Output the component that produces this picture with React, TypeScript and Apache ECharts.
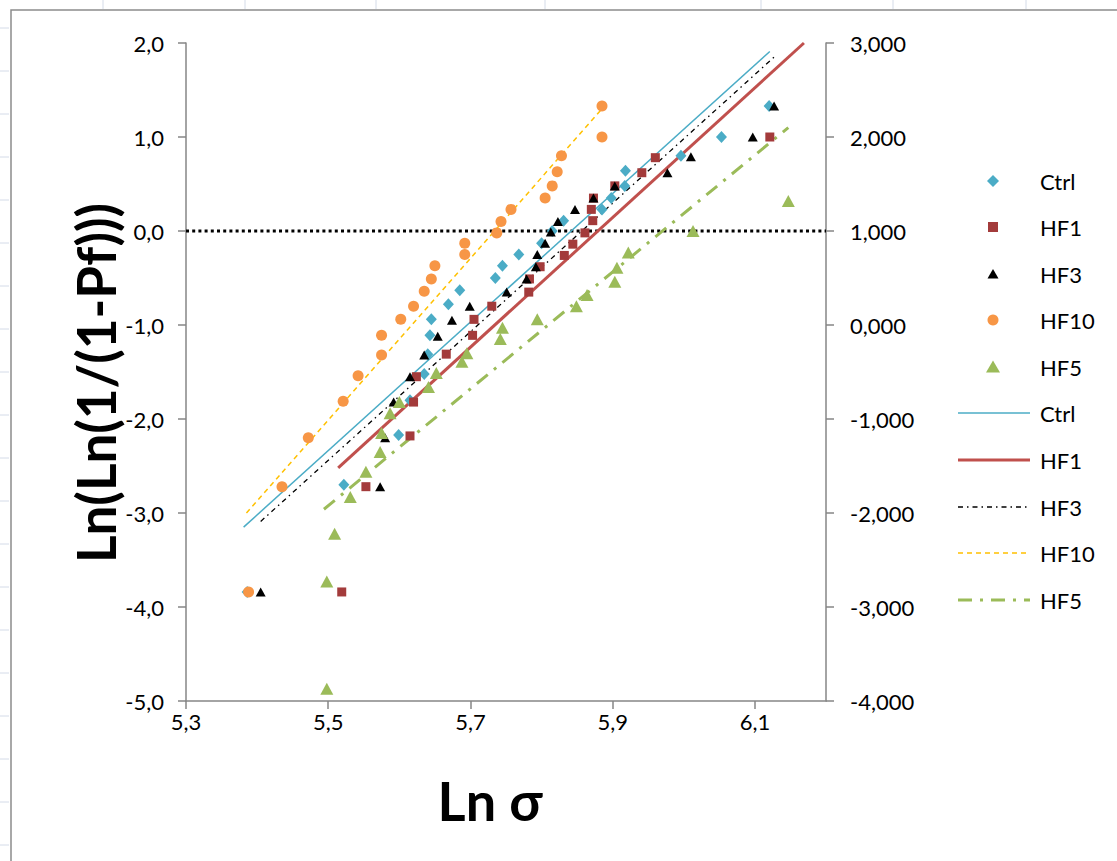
import React, { useEffect, useRef } from "react";
import * as echarts from "echarts";

// ---- data ----
const ctrlX = [5.386, 5.522, 5.599, 5.615, 5.635, 5.64, 5.643, 5.645, 5.669, 5.685, 5.735, 5.745, 5.768, 5.8, 5.815, 5.831, 5.885, 5.898, 5.917, 5.918, 5.996, 6.053, 6.12];
const ctrlY = [-3.84, -2.7, -2.17, -1.8, -1.52, -1.31, -1.11, -0.94, -0.78, -0.63, -0.5, -0.37, -0.25, -0.13, 0.0, 0.11, 0.23, 0.35, 0.48, 0.64, 0.8, 1.0, 1.33];

const hf1X = [5.519, 5.553, 5.615, 5.62, 5.624, 5.666, 5.703, 5.705, 5.73, 5.782, 5.783, 5.798, 5.832, 5.844, 5.861, 5.872, 5.87, 5.873, 5.903, 5.941, 5.96, 6.121];
const hf1Y = [-3.84, -2.72, -2.18, -1.82, -1.55, -1.31, -1.11, -0.94, -0.8, -0.65, -0.51, -0.38, -0.26, -0.14, -0.02, 0.11, 0.23, 0.35, 0.48, 0.62, 0.78, 1.0];

const hf3X = [5.405, 5.573, 5.58, 5.592, 5.615, 5.635, 5.654, 5.674, 5.699, 5.751, 5.779, 5.792, 5.794, 5.805, 5.813, 5.823, 5.847, 5.873, 5.903, 5.977, 6.01, 6.097, 6.127];
const hf3Y = [-3.84, -2.72, -2.2, -1.82, -1.55, -1.32, -1.12, -0.95, -0.8, -0.65, -0.51, -0.38, -0.25, -0.13, -0.01, 0.1, 0.23, 0.35, 0.48, 0.62, 0.79, 1.0, 1.33];

const hf10X = [5.388, 5.435, 5.472, 5.521, 5.542, 5.575, 5.575, 5.602, 5.62, 5.635, 5.645, 5.65, 5.692, 5.692, 5.737, 5.743, 5.757, 5.805, 5.815, 5.822, 5.828, 5.885, 5.885];
const hf10Y = [-3.84, -2.72, -2.2, -1.81, -1.54, -1.32, -1.11, -0.94, -0.8, -0.64, -0.51, -0.37, -0.25, -0.13, -0.02, 0.1, 0.23, 0.35, 0.48, 0.63, 0.8, 1.0, 1.33];

const hf5X = [5.498, 5.498, 5.509, 5.531, 5.553, 5.573, 5.575, 5.587, 5.6, 5.641, 5.652, 5.688, 5.695, 5.742, 5.745, 5.794, 5.849, 5.864, 5.903, 5.906, 5.922, 6.013, 6.147];
const hf5Y = [-4.87, -3.73, -3.22, -2.83, -2.56, -2.35, -2.15, -1.94, -1.82, -1.66, -1.51, -1.39, -1.3, -1.15, -1.03, -0.94, -0.8, -0.68, -0.54, -0.39, -0.23, 0.0, 0.32];

// trend line end points
const ctrlTrendX = [5.381, 6.121];
const ctrlTrendY = [-3.15, 1.91];
const hf1TrendX = [5.514, 6.169];
const hf1TrendY = [-2.52, 2.0];
const hf3TrendX = [5.405, 6.13];
const hf3TrendY = [-3.09, 1.87];
const hf10TrendX = [5.385, 5.885];
const hf10TrendY = [-3.0, 1.3];
const hf5TrendX = [5.494, 6.147];
const hf5TrendY = [-2.96, 1.1];

const zeroLineX = [5.3, 6.2];
const zeroLineY = [0, 0];

const xTicks = [5.3, 5.5, 5.7, 5.9, 6.1];
const seriesNames = ["Ctrl", "HF1", "HF3", "HF10", "HF5"];

const FONT = "Lato, 'Liberation Sans', sans-serif";
const C_CTRL = "#4bacc6";
const C_HF1 = "#a33b3b";
const C_HF1_LINE = "#c0504d";
const C_HF3 = "#000000";
const C_HF10 = "#f79646";
const C_HF10_LINE = "#ffc000";
const C_HF5 = "#9bbb59";
const AXIS = "#868686";

const pairs = (xs: number[], ys: number[]) => xs.map((x, i) => [x, ys[i]]);
const comma = (v: number, d: number) => v.toFixed(d).replace(".", ",");

export default function App() {
  const ref = useRef<HTMLDivElement>(null);
  useEffect(() => {
    if (!ref.current) return;
    const chart = echarts.init(ref.current, undefined, { renderer: "svg" });

    const legendY = [181, 227, 274, 320, 367, 413, 460, 507, 553, 600];
    const mx = 993;
    const textX = 1040;
    const g: any[] = [];
    // chart border
    g.push({ type: "rect", shape: { x: 11, y: 10, width: 1200, height: 900 }, style: { fill: "none", stroke: "#8c8c8c", lineWidth: 1.5 }, z: -1 });
    // faint spreadsheet grid marks
    [103, 245, 376, 545, 761, 893, 1026].forEach((x) =>
      g.push({ type: "line", shape: { x1: x, y1: 0, x2: x, y2: 9 }, style: { stroke: "#d4dbe8", lineWidth: 1 } })
    );
    for (let y = 28; y < 861; y += 43)
      g.push({ type: "line", shape: { x1: 0, y1: y, x2: 9, y2: y }, style: { stroke: "#d4dbe8", lineWidth: 1 } });
    // legend markers
    const y0 = legendY;
    g.push({ type: "polygon", shape: { points: [[mx, y0[0] - 6], [mx + 6, y0[0]], [mx, y0[0] + 6], [mx - 6, y0[0]]] }, style: { fill: C_CTRL } });
    g.push({ type: "rect", shape: { x: mx - 5, y: y0[1] - 5, width: 10, height: 10 }, style: { fill: C_HF1 } });
    g.push({ type: "polygon", shape: { points: [[mx, y0[2] - 5], [mx + 5.5, y0[2] + 4.5], [mx - 5.5, y0[2] + 4.5]] }, style: { fill: C_HF3 } });
    g.push({ type: "circle", shape: { cx: mx, cy: y0[3], r: 5.5 }, style: { fill: C_HF10 } });
    g.push({ type: "polygon", shape: { points: [[mx, y0[4] - 6.5], [mx + 7, y0[4] + 5.5], [mx - 7, y0[4] + 5.5]] }, style: { fill: C_HF5 } });
    const lineStyles = [
      { stroke: C_CTRL, lineWidth: 1.5 },
      { stroke: C_HF1_LINE, lineWidth: 3 },
      { stroke: C_HF3, lineWidth: 1.3, lineDash: [5, 4, 1.5, 4] },
      { stroke: C_HF10_LINE, lineWidth: 1.5, lineDash: [5, 4] },
      { stroke: C_HF5, lineWidth: 3, lineDash: [14, 8, 3, 8] },
    ];
    lineStyles.forEach((s, i) =>
      g.push({ type: "line", shape: { x1: 958, y1: y0[5 + i], x2: 1030, y2: y0[5 + i] }, style: { ...s, fill: "none" } })
    );
    [...seriesNames, ...seriesNames].forEach((n, i) =>
      g.push({ type: "text", x: textX, y: y0[i], style: { text: n, font: `22px ${FONT}`, fill: "#000", textVerticalAlign: "middle" } })
    );
    // axis titles
    g.push({ type: "text", x: 95, y: 383, rotation: Math.PI / 2, style: { text: "Ln(Ln(1/(1-Pf)))", font: `bold 53px ${FONT}`, fill: "#000", textAlign: "center", textVerticalAlign: "middle" } });
    g.push({ type: "text", x: 490, y: 800, style: { text: "Ln σ", font: `bold 54px ${FONT}`, fill: "#000", textAlign: "center", textVerticalAlign: "middle" } });

    const scatter = (name: string, xs: number[], ys: number[], symbol: string, size: any, color: string) => ({
      type: "scatter",
      name,
      data: pairs(xs, ys),
      symbol,
      symbolSize: size,
      itemStyle: { color, opacity: 1 },
      z: 5,
    });
    const trend = (name: string, xs: number[], ys: number[], ls: any) => ({
      type: "line",
      name: name + " trend",
      data: pairs(xs, ys),
      symbol: "none",
      lineStyle: ls,
      z: 3,
    });

    chart.setOption({
      animation: false,
      backgroundColor: "#ffffff",
      grid: { left: 186, right: 291, top: 43, bottom: 160, containLabel: false },
      xAxis: {
        type: "value",
        min: 5.3,
        max: 6.2,
        splitLine: { show: false },
        axisLine: { show: true, onZero: false, lineStyle: { color: AXIS, width: 1.5 } },
        axisTick: { show: true, length: 8, customValues: xTicks, lineStyle: { color: AXIS, width: 1.5 } },
        axisLabel: { customValues: xTicks, formatter: (v: number) => comma(v, 1), fontFamily: FONT, fontSize: 22, color: "#000", margin: 9 },
      },
      yAxis: [
        {
          type: "value",
          min: -5,
          max: 2,
          interval: 1,
          splitLine: { show: false },
          axisLine: { show: true, onZero: false, lineStyle: { color: AXIS, width: 1.5 } },
          axisTick: { show: true, length: 8, lineStyle: { color: AXIS, width: 1.5 } },
          axisLabel: { formatter: (v: number) => comma(v, 1), fontFamily: FONT, fontSize: 22, color: "#000", margin: 22 },
        },
        {
          type: "value",
          position: "right",
          min: -4,
          max: 3,
          interval: 1,
          splitLine: { show: false },
          axisLine: { show: true, onZero: false, lineStyle: { color: AXIS, width: 1.5 } },
          axisTick: { show: true, length: 8, lineStyle: { color: AXIS, width: 1.5 } },
          axisLabel: { formatter: (v: number) => comma(v, 3), fontFamily: FONT, fontSize: 22, color: "#000", margin: 24 },
        },
      ],
      graphic: g,
      series: [
        {
          type: "line",
          name: "zero",
          data: pairs(zeroLineX, zeroLineY),
          symbol: "none",
          lineStyle: { color: "#000", width: 3, type: [3, 3.2], cap: "butt" },
          z: 2,
        },
        trend("Ctrl", ctrlTrendX, ctrlTrendY, { color: C_CTRL, width: 1.5 }),
        trend("HF1", hf1TrendX, hf1TrendY, { color: C_HF1_LINE, width: 3 }),
        trend("HF3", hf3TrendX, hf3TrendY, { color: C_HF3, width: 1.3, type: [5, 4, 1.5, 4] }),
        trend("HF10", hf10TrendX, hf10TrendY, { color: C_HF10_LINE, width: 1.5, type: [5, 4] }),
        trend("HF5", hf5TrendX, hf5TrendY, { color: C_HF5, width: 3, type: [14, 8, 3, 8] }),
        scatter("Ctrl", ctrlX, ctrlY, "diamond", [11, 12], C_CTRL),
        scatter("HF1", hf1X, hf1Y, "rect", 9, C_HF1),
        scatter("HF3", hf3X, hf3Y, "triangle", [10, 9], C_HF3),
        scatter("HF10", hf10X, hf10Y, "circle", 11, C_HF10),
        scatter("HF5", hf5X, hf5Y, "triangle", [13, 12], C_HF5),
      ],
    });
    return () => chart.dispose();
  }, []);
  return <div ref={ref} style={{ position: "fixed", left: 0, top: 0, width: 1117, height: 861, background: "#fff" }} />;
}
